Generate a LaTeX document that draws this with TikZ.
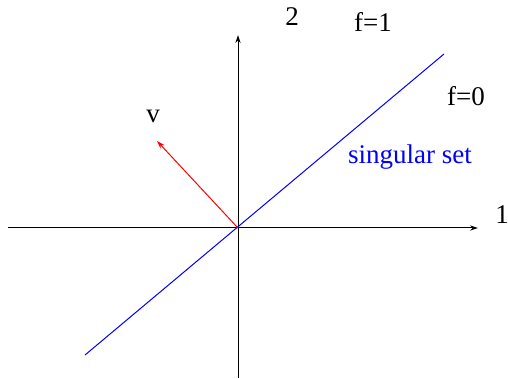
\documentclass[tikz,border=0pt]{standalone}
\usepackage{fontspec}
\setmainfont{Liberation Serif}
\usetikzlibrary{arrows.meta,positioning}

\begin{document}
\begin{tikzpicture}[
  x=0.5pt, y=-0.5pt,
  font=\fontsize{13.5}{16}\selectfont,
  axis/.style={-{Stealth[length=4pt,width=2.6pt]}, line width=0.5pt, draw=black},
  lbl/.style={inner sep=0pt, anchor=center},
  sing/.style={line width=0.5pt, draw=blue},
  vec/.style={-{Stealth[length=4pt,width=2.6pt]}, line width=0.5pt, draw=red}
]
\useasboundingbox (0,0) rectangle (508,379);

% axes
\coordinate (o) at (238,228);
\coordinate (xs) at (8,228);
\coordinate (xe) at (478,228);
\coordinate (ys) at (238,378);
\coordinate (ye) at (238,35);
\draw[axis] (xs) -- (xe);
\draw[axis] (ys) -- (ye);
\node[lbl] (one) at (502,215) {1};
\node[lbl] (two) at (292,17) {2};

% singular set
\coordinate (sa) at (85,355);
\coordinate (sb) at (444,54);
\draw[sing] (sa) -- (sb);
\node[lbl, text=blue] (singset) at (410,157) {singular set};
\node[lbl] (fone) at (373,22) {f=1};
\node[lbl] (fzero) at (466,96) {f=0};

% vector
\coordinate (vtip) at (157,141);
\draw[vec] (o) -- (vtip);
\node[lbl] (v) at (153,116) {v};

\end{tikzpicture}
\end{document}
